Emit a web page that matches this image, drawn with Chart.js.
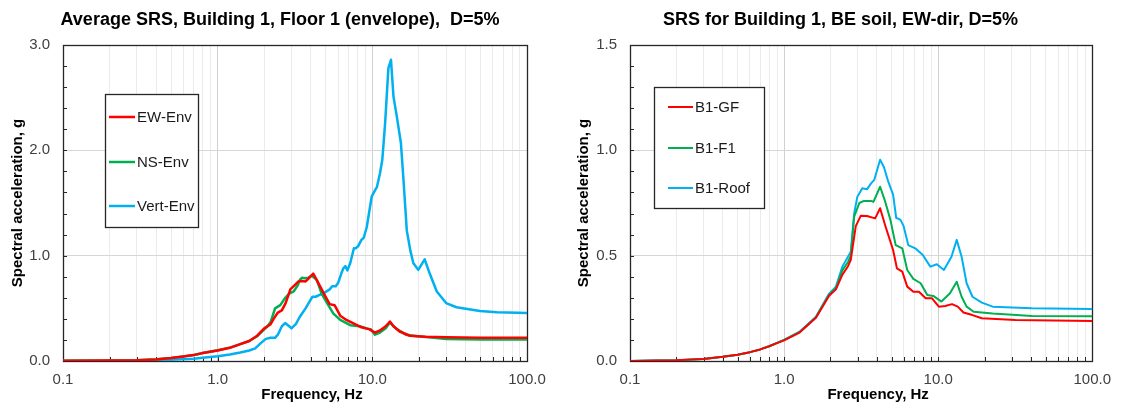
<!DOCTYPE html>
<html><head><meta charset="utf-8">
<script src="https://cdn.jsdelivr.net/npm/chart.js@4.4.1/dist/chart.umd.min.js"></script>
<style>
html,body{margin:0;padding:0;background:#fff;}
#wrap{position:relative;width:1121px;height:405px;overflow:hidden;background:#fff}
#c1{position:absolute;left:0;top:0}
#c2{position:absolute;left:560px;top:0}
</style></head><body>
<div id="wrap"><canvas id="c1" width="560" height="405"></canvas><canvas id="c2" width="561" height="405"></canvas></div>
<script>
// ---------- Data: left chart (Average SRS, Building 1, Floor 1) ----------
const ewFreq = [0.1,0.2,0.3,0.4,0.5,0.6,0.7,0.8,0.9,1.0,1.2,1.4,1.6,1.8,2.0,2.1,2.2,2.3,2.45,2.6,2.75,2.86,2.95,3.15,3.33,3.5,3.7,3.85,4.15,4.48,4.94,5.3,5.7,6.2,6.8,7.5,8.5,9.6,10.4,11.2,12.2,13.0,13.7,15.0,17.5,22,30,50,100];
const ewEnv  = [0.002,0.004,0.007,0.015,0.028,0.043,0.056,0.075,0.088,0.1,0.125,0.16,0.19,0.24,0.31,0.33,0.35,0.40,0.46,0.48,0.55,0.62,0.68,0.72,0.755,0.76,0.755,0.78,0.83,0.74,0.62,0.54,0.53,0.43,0.39,0.36,0.32,0.30,0.27,0.29,0.33,0.375,0.33,0.28,0.24,0.23,0.225,0.22,0.22];

const nsFreq = [0.1,0.2,0.3,0.4,0.5,0.6,0.7,0.8,0.9,1.0,1.2,1.4,1.6,1.8,2.0,2.1,2.2,2.35,2.54,2.72,2.9,3.1,3.3,3.4,3.5,3.66,3.85,4.06,4.37,4.7,5.1,5.6,6.2,7.2,8.3,9.2,9.8,10.4,11.2,12.2,13.0,13.7,14.5,16.5,19.6,25,30,50,100];
const nsEnv  = [0.002,0.004,0.007,0.016,0.029,0.044,0.057,0.076,0.09,0.102,0.127,0.16,0.19,0.235,0.30,0.33,0.37,0.50,0.53,0.595,0.64,0.66,0.72,0.77,0.79,0.785,0.79,0.81,0.77,0.64,0.55,0.45,0.39,0.34,0.33,0.31,0.30,0.25,0.27,0.31,0.365,0.33,0.30,0.25,0.235,0.22,0.21,0.205,0.205];

const vtFreq = [0.1,0.2,0.3,0.5,0.7,0.8,1.0,1.2,1.4,1.6,1.75,1.9,2.05,2.2,2.35,2.45,2.6,2.73,2.9,3.0,3.2,3.4,3.7,3.95,4.1,4.3,4.6,4.8,5.3,5.5,5.8,6.0,6.3,6.5,6.7,6.9,7.2,7.6,7.8,8.1,8.5,8.8,9.2,9.9,10.4,10.7,11.2,11.6,12.1,12.7,13.2,13.7,14.4,15.3,15.9,16.7,17.6,18.4,19.8,21.8,23.5,26.1,30,35,49.6,64,100];
const vtEnv  = [0.0,0.001,0.003,0.012,0.022,0.03,0.045,0.062,0.08,0.1,0.12,0.17,0.21,0.22,0.22,0.25,0.33,0.36,0.33,0.31,0.35,0.42,0.50,0.57,0.61,0.61,0.63,0.64,0.68,0.71,0.71,0.74,0.83,0.88,0.90,0.86,0.93,1.07,1.07,1.09,1.15,1.17,1.27,1.56,1.62,1.65,1.78,1.91,2.26,2.78,2.86,2.51,2.32,2.07,1.72,1.24,1.05,0.93,0.865,0.965,0.83,0.66,0.55,0.51,0.475,0.462,0.455];

// ---------- Data: right chart (SRS for Building 1, BE soil, EW-dir) ----------
const gfFreq = [0.1,0.15,0.2,0.3,0.4,0.5,0.6,0.7,0.8,0.9,1.0,1.26,1.61,1.96,2.17,2.39,2.6,2.71,2.92,3.15,3.45,3.9,4.2,4.55,5.1,5.4,5.85,6.3,6.9,7.5,8.3,9.1,10.1,11.1,12.3,13.4,14.6,16.7,19.2,31.7,100];
const gfVal  = [0.0,0.002,0.004,0.01,0.02,0.03,0.042,0.055,0.07,0.085,0.098,0.135,0.205,0.31,0.34,0.41,0.45,0.48,0.64,0.69,0.688,0.677,0.725,0.64,0.527,0.44,0.424,0.353,0.329,0.329,0.298,0.298,0.258,0.261,0.27,0.258,0.23,0.218,0.203,0.195,0.19];

const f1Freq = [0.1,0.15,0.2,0.3,0.4,0.5,0.6,0.7,0.8,0.9,1.0,1.26,1.61,1.96,2.17,2.39,2.6,2.71,2.85,3.08,3.3,3.67,3.8,4.2,4.5,4.9,5.3,5.85,6.3,6.9,7.7,8.5,9.3,10.5,11.9,13.2,14.2,15.3,17.0,22.6,40.6,100];
const f1Val  = [0.0,0.002,0.004,0.01,0.02,0.03,0.042,0.055,0.07,0.086,0.1,0.137,0.208,0.315,0.345,0.43,0.47,0.50,0.685,0.75,0.76,0.76,0.755,0.827,0.764,0.67,0.55,0.535,0.432,0.39,0.369,0.313,0.309,0.282,0.32,0.376,0.305,0.258,0.234,0.226,0.214,0.212];

const roofFreq = [0.1,0.15,0.2,0.3,0.4,0.5,0.6,0.7,0.8,0.9,1.0,1.26,1.61,1.96,2.17,2.39,2.71,2.85,2.99,3.22,3.45,3.67,3.85,4.2,4.45,4.75,5.1,5.34,5.7,5.97,6.4,7.1,7.95,8.9,9.8,10.9,12.2,13.2,14.2,15.3,16.7,19.2,22.6,40.6,100];
const roofVal  = [0.0,0.002,0.004,0.01,0.02,0.03,0.042,0.055,0.07,0.086,0.1,0.139,0.21,0.32,0.353,0.448,0.519,0.70,0.78,0.82,0.815,0.843,0.86,0.955,0.92,0.85,0.79,0.68,0.67,0.64,0.55,0.535,0.503,0.448,0.459,0.432,0.495,0.575,0.495,0.369,0.305,0.277,0.258,0.25,0.247];

// ---------- Tick labels ----------
const xDecades = [0.1, 1, 10, 100];
const xTickLabels = ["0.1", "1.0", "10.0", "100.0"];
const yLeftMajor = [0, 1, 2, 3];
const yLeftLabels = ["0.0", "1.0", "2.0", "3.0"];
const yRightMajor = [0, 0.5, 1, 1.5];
const yRightLabels = ["0.0", "0.5", "1.0", "1.5"];

const titles = ["Average SRS, Building 1, Floor 1 (envelope),  D=5%", "SRS for Building 1, BE soil, EW-dir, D=5%"];
const xTitle = "Frequency, Hz";
const yTitle = "Spectral acceleration, g";

const RED = '#ff0000', GREEN = '#00b050', BLUE = '#00b0f0';
const FONT = '"Liberation Sans", Arial, sans-serif';

Chart.defaults.font.family = FONT;
Chart.defaults.color = '#404040';

function pts(fs, vs) { return fs.map((f, i) => ({x: f, y: vs[i]})); }
function near(a, b) { return Math.abs(a - b) < 1e-6 * Math.max(1, Math.abs(b)); }

// minor log ticks 1..9 per decade (axis decoration only)
const xTickValues = [];
for (let d = 0; d < xDecades.length - 1; d++) {
  for (let m = 1; m <= 9; m++) xTickValues.push(+(xDecades[d] * m).toPrecision(6));
}
xTickValues.push(xDecades[xDecades.length - 1]);

const framePlugin = {
  id: 'frame',
  afterLayout(chart, args, o) {
    const s = chart.scales.x;
    if (s && !s._titleShifted) {
      const orig = s.drawTitle.bind(s);
      s.drawTitle = function () {
        const c = this.ctx; c.save(); c.translate((o && o.xTitleShift) || 0, 0); orig(); c.restore();
      };
      s._titleShifted = true;
    }
  },
  beforeDatasetsDraw(chart) {
    const {ctx, chartArea: a, scales: {x, y}} = chart;
    ctx.save();
    ctx.strokeStyle = '#262626';
    ctx.lineWidth = 1;
    ctx.beginPath();
    x.ticks.forEach(t => {
      const px = Math.round(x.getPixelForValue(t.value)) + 0.5;
      ctx.moveTo(px, a.bottom); ctx.lineTo(px, a.bottom - 4);
    });
    y.ticks.forEach(t => {
      const py = Math.round(y.getPixelForValue(t.value)) + 0.5;
      ctx.moveTo(a.left, py); ctx.lineTo(a.left + 4, py);
    });
    ctx.stroke();
    ctx.lineWidth = 1.3;
    ctx.strokeRect(Math.round(a.left) + 0.5, Math.round(a.top) + 0.5, Math.round(a.right - a.left), Math.round(a.bottom - a.top));
    ctx.restore();
  },
  afterDraw(chart, args, o) {
    if (!o || !o.box) return;
    const {ctx} = chart;
    ctx.save();
    ctx.fillStyle = '#ffffff';
    ctx.fillRect(o.box[0], o.box[1], o.box[2], o.box[3]);
    ctx.strokeStyle = '#262626';
    ctx.lineWidth = 1.3;
    ctx.strokeRect(o.box[0] + 0.5, o.box[1] + 0.5, o.box[2], o.box[3]);
    ctx.font = o.font;
    ctx.textBaseline = 'middle';
    ctx.textAlign = 'left';
    chart.data.datasets.forEach((ds, i) => {
      const yy = o.rows[i];
      ctx.strokeStyle = ds.borderColor;
      ctx.lineWidth = ds.borderWidth;
      ctx.beginPath();
      ctx.moveTo(o.line[0], yy); ctx.lineTo(o.line[1], yy);
      ctx.stroke();
      ctx.fillStyle = '#1a1a1a';
      ctx.fillText(ds.label, o.textX, yy + 1);
    });
    ctx.restore();
  }
};

function makeChart(canvas, cfg) {
  return new Chart(canvas, {
    type: 'line',
    data: {datasets: cfg.datasets.map(d => ({
      label: d.label, data: d.data, borderColor: d.color, backgroundColor: d.color,
      borderWidth: cfg.lw, pointRadius: 0, pointHoverRadius: 0, tension: 0, fill: false,
      borderJoinStyle: 'round', borderCapStyle: 'round', yAxisID: 'y', xAxisID: 'x'
    }))},
    options: {
      responsive: false, animation: false, devicePixelRatio: 1,
      events: [],
      layout: {padding: 0},
      plugins: {
        legend: {display: false},
        tooltip: {enabled: false},
        title: {display: true, text: cfg.title, color: '#000', font: {size: 18, weight: 'bold', family: FONT, lineHeight: 1.2}, padding: {top: 9, bottom: 14.4}},
        frame: cfg.legend
      },
      scales: {
        x: {
          type: 'logarithmic', min: 0.1, max: 100,
          afterBuildTicks: s => { s.ticks = xTickValues.map(v => ({value: v})); },
          afterFit: s => { s.height = 44; },
          ticks: {
            autoSkip: false, maxRotation: 0, minRotation: 0, padding: 10,
            font: {size: 15, family: FONT}, color: '#404040',
            callback: v => { const i = xDecades.findIndex(d => near(v, d)); return i >= 0 ? xTickLabels[i] : ''; }
          },
          grid: {
            drawTicks: false, lineWidth: 1,
            color: c => (c.tick && xDecades.some(d => near(c.tick.value, d))) ? '#d0d0d0' : '#ebebeb'
          },
          border: {display: false},
          title: {display: true, text: xTitle, color: '#000', font: {size: 15, weight: 'bold', family: FONT, lineHeight: 1.2}, padding: {top: 0, bottom: 1}}
        },
        y: {
          type: 'linear', min: 0, max: cfg.yMax,
          afterFit: s => { s.width = cfg.yWidth; },
          ticks: {
            stepSize: cfg.yStep, autoSkip: false, padding: 13,
            font: {size: 15, family: FONT}, color: '#404040',
            callback: v => { const i = cfg.yMajor.findIndex(m => near(v, m)); return i >= 0 ? cfg.yLabels[i] : ''; }
          },
          grid: {
            drawTicks: false, lineWidth: 1,
            color: c => (c.tick && cfg.yMajor.some(m => near(c.tick.value, m))) ? '#d6d6d6' : 'rgba(0,0,0,0)'
          },
          border: {display: false},
          title: {display: true, text: yTitle, color: '#000', font: {size: 15, weight: 'bold', family: FONT, lineHeight: 1.2}, padding: {top: cfg.yTitlePad, bottom: 0}}
        },
        yr: {
          type: 'linear', position: 'right', min: 0, max: 1, display: true,
          afterFit: s => { s.width = cfg.rightSpace; },
          ticks: {display: false},
          grid: {display: false, drawOnChartArea: false, drawTicks: false},
          border: {display: false},
          title: {display: false}
        }
      }
    },
    plugins: [framePlugin]
  });
}

makeChart(document.getElementById('c1'), {
  title: titles[0], lw: 2.5, rightSpace: 33, yWidth: 63, yTitlePad: 9,
  yMax: 3, yStep: 0.2, yMajor: yLeftMajor, yLabels: yLeftLabels,
  datasets: [
    {label: 'EW-Env', data: pts(ewFreq, ewEnv), color: RED},
    {label: 'NS-Env', data: pts(nsFreq, nsEnv), color: GREEN},
    {label: 'Vert-Env', data: pts(vtFreq, vtEnv), color: BLUE}
  ],
  legend: {box: [105, 94, 93, 133], rows: [117, 162, 206], line: [109, 135], textX: 137, font: '15px ' + FONT, xTitleShift: 17}
});

makeChart(document.getElementById('c2'), {
  title: titles[1], lw: 2, rightSpace: 27, yWidth: 70, yTitlePad: 15,
  yMax: 1.5, yStep: 0.1, yMajor: yRightMajor, yLabels: yRightLabels,
  datasets: [
    {label: 'B1-GF', data: pts(gfFreq, gfVal), color: RED},
    {label: 'B1-F1', data: pts(f1Freq, f1Val), color: GREEN},
    {label: 'B1-Roof', data: pts(roofFreq, roofVal), color: BLUE}
  ],
  legend: {box: [94, 87, 110, 121], rows: [107, 148, 188], line: [108, 133], textX: 135, font: '15px ' + FONT, xTitleShift: 17}
});
</script></body></html>
